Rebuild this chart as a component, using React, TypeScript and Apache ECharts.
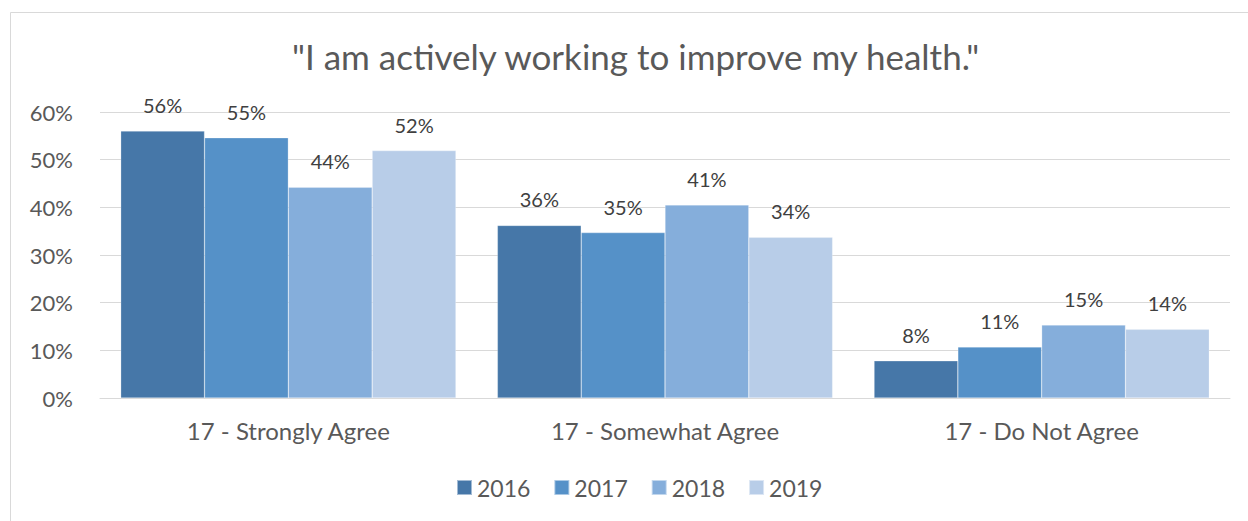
import React, { useEffect, useRef } from "react";
import * as echarts from "echarts";

const categories = ["17 - Strongly Agree", "17 - Somewhat Agree", "17 - Do Not Agree"];
const years = ["2016", "2017", "2018", "2019"];
const v2016 = [56.0, 36.2, 7.8];
const v2017 = [54.6, 34.7, 10.7];
const v2018 = [44.2, 40.5, 15.3];
const v2019 = [51.9, 33.7, 14.4];
const colors = ["#4677A8", "#5591C8", "#85AEDB", "#B8CDE8"];
const titleText = '"I am actively working to improve my health."';

export default function App() {
  const ref = useRef<HTMLDivElement>(null);
  useEffect(() => {
    if (!ref.current) return;
    const chart = echarts.init(ref.current, null, { renderer: "svg" });
    const seriesData = [v2016, v2017, v2018, v2019];
    const font = "Lato, 'Open Sans', sans-serif";
    chart.setOption({
      animation: false,
      backgroundColor: "#ffffff",
      title: {
        text: titleText,
        left: 287,
        top: 33,
        textStyle: { fontFamily: font, fontSize: 35, fontWeight: "normal", color: "#595959" },
      },
      graphic: [
        {
          type: "rect",
          shape: { x: 10.5, y: 12.5, width: 1300, height: 600 },
          style: { fill: "none", stroke: "#D9D9D9", lineWidth: 1 },
          silent: true,
        },
      ],
      legend: {
        data: years,
        bottom: 17,
        left: 451,
        itemWidth: 15,
        itemHeight: 15,
        itemGap: 23,
        icon: "rect",
        textStyle: { fontFamily: font, fontSize: 23, color: "#595959" },
      },
      grid: { left: 100, right: 18, top: 112, bottom: 123 },
      xAxis: {
        type: "category",
        data: categories,
        axisLine: { lineStyle: { color: "#D9D9D9", width: 1 } },
        axisTick: { show: false },
        axisLabel: { fontFamily: font, fontSize: 24, color: "#595959", margin: 20 },
      },
      yAxis: {
        type: "value",
        min: 0,
        max: 60,
        interval: 10,
        axisLine: { show: false },
        axisTick: { show: false },
        splitLine: { lineStyle: { color: "#D9D9D9", width: 1 } },
        axisLabel: {
          fontFamily: font,
          fontSize: 22,
          color: "#595959",
          margin: 27,
          formatter: (v: number) => v + "%",
        },
      },
      series: years.map((y, i) => ({
        name: y,
        type: "bar",
        data: seriesData[i],
        barGap: "0%",
        barCategoryGap: "11%",
        itemStyle: { color: colors[i], borderColor: "rgba(255,255,255,0.5)", borderWidth: 0.5 },
        label: {
          show: true,
          position: "top",
          distance: 16,
          fontFamily: font,
          fontSize: 20,
          color: "#404040",
          formatter: (p: any) => Math.round(p.value) + "%",
        },
      })),
    });
    return () => chart.dispose();
  }, []);
  return (
    <div
      ref={ref}
      style={{ position: "absolute", left: 0, top: 0, width: 1248, height: 521 }}
    />
  );
}
